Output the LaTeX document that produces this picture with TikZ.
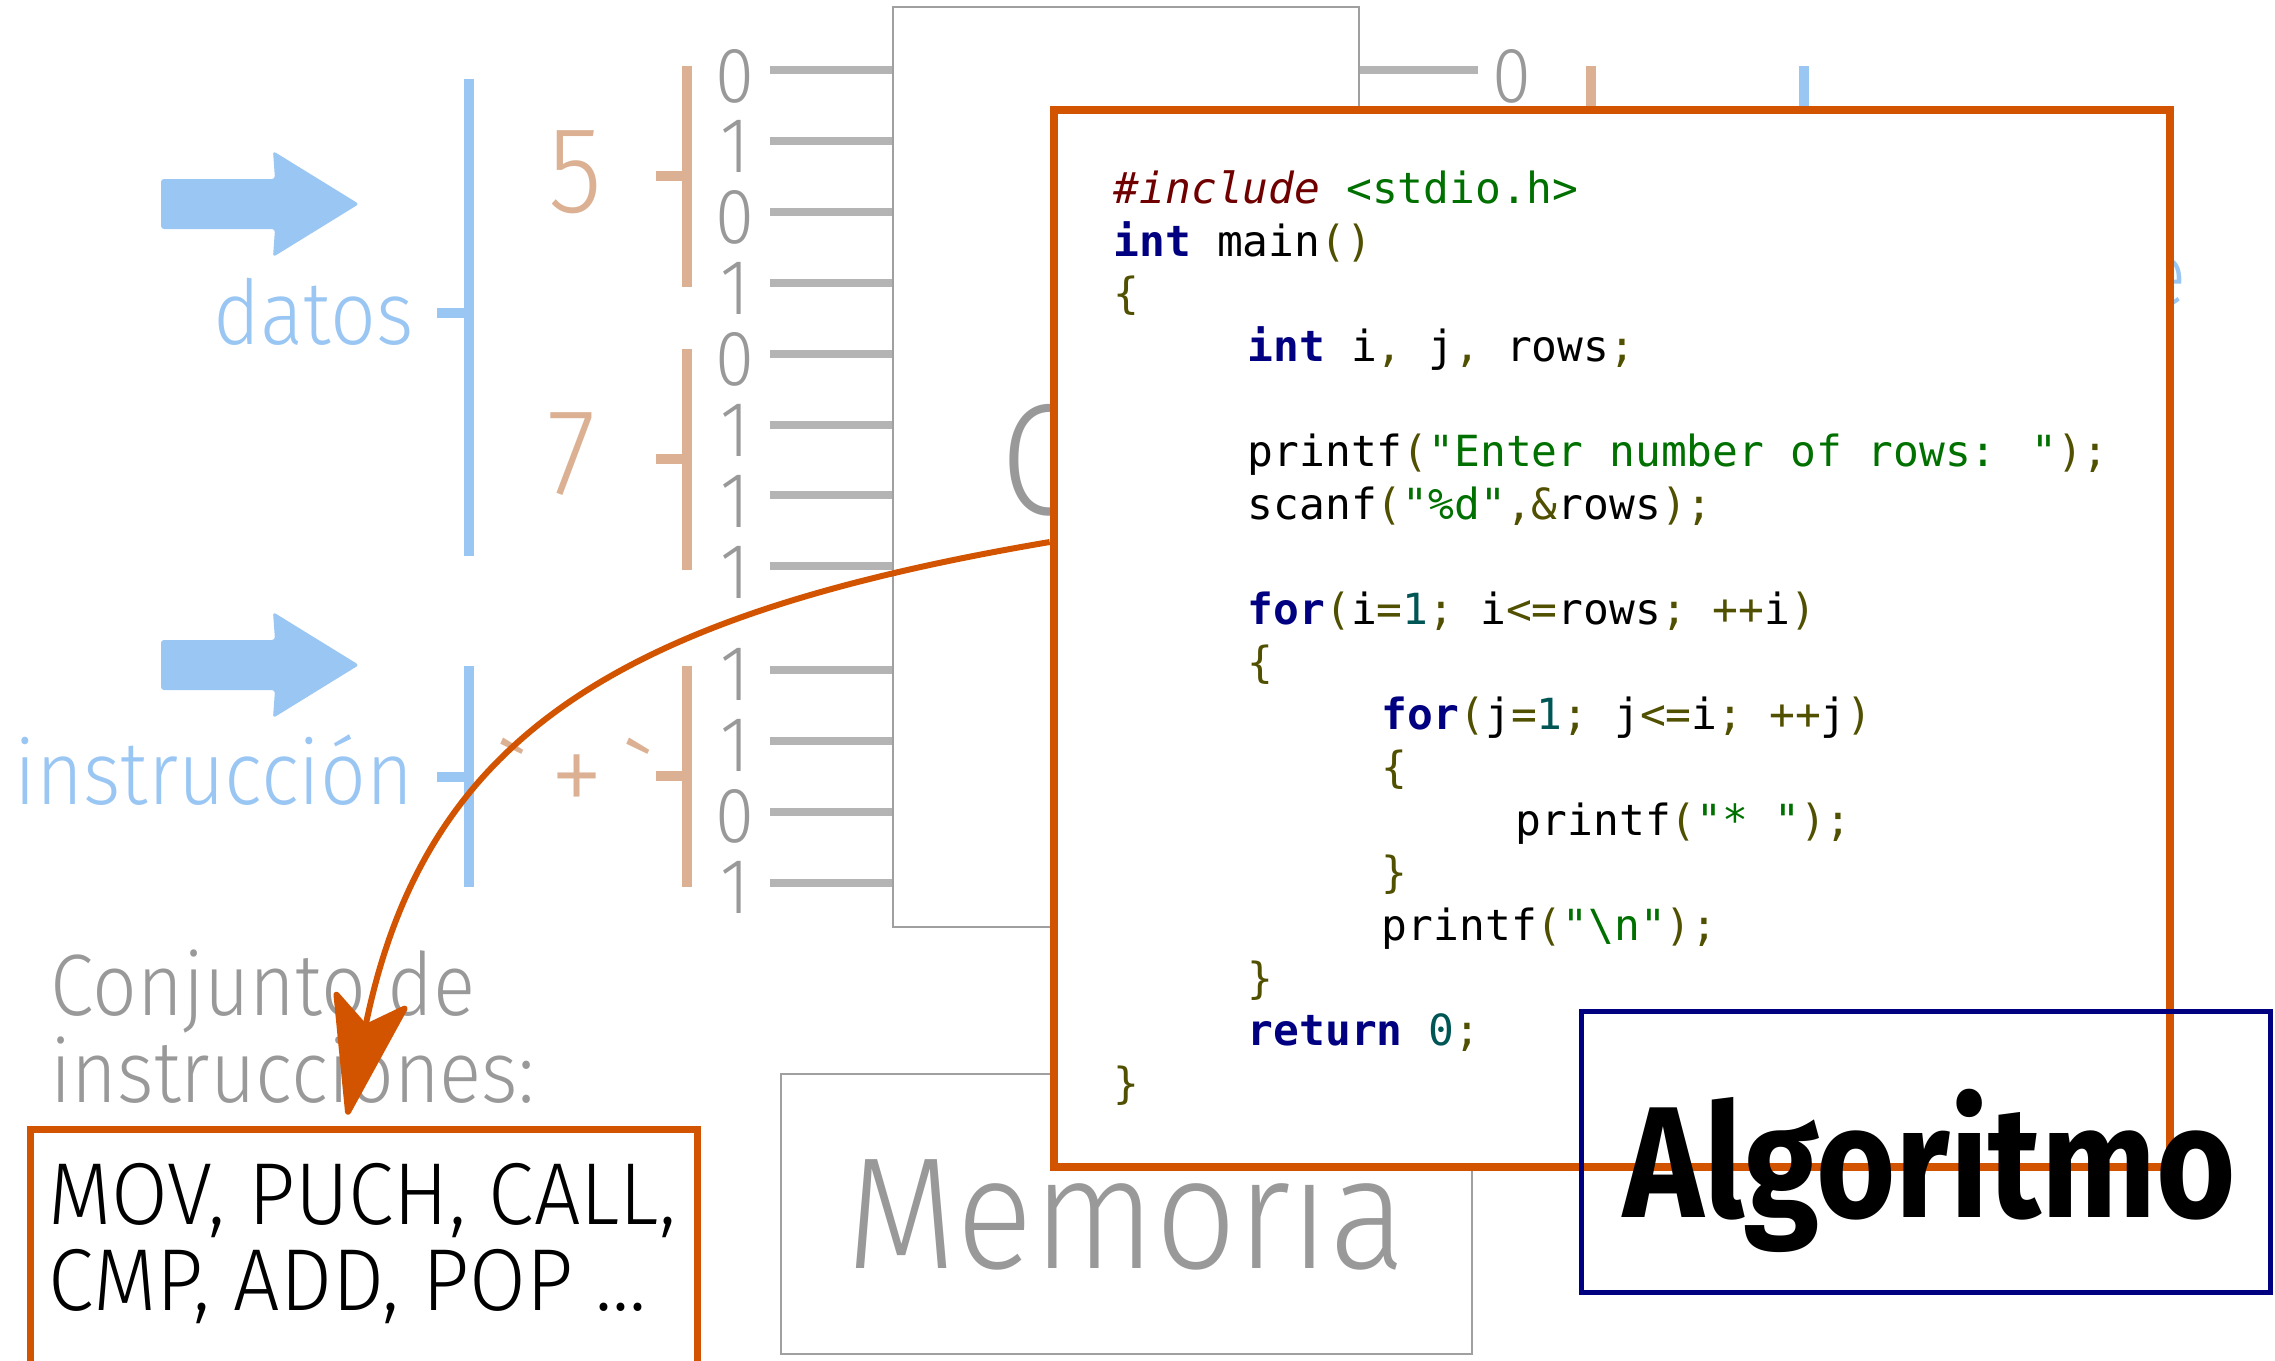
\documentclass[tikz,border=0pt]{standalone}
\usepackage{fontspec}
\usepackage{xcolor}
\usetikzlibrary{arrows.meta}
\newfontfamily\lightfont{Fira Sans Light}[FakeStretch=0.9]
\newfontfamily\wideflight{Fira Sans Light}[FakeStretch=0.935]
\newfontfamily\heavyfont{Fira Sans}[FakeStretch=0.86]
\newfontfamily\codefont{DejaVu Sans Mono}
\definecolor{figblue}{HTML}{9AC6F3}
\definecolor{figtan}{HTML}{DBB093}
\definecolor{figgray}{HTML}{999999}
\definecolor{wiregray}{HTML}{B4B4B4}
\definecolor{boxgray}{HTML}{A0A0A0}
\definecolor{figorange}{HTML}{D35400}
\definecolor{fignavy}{HTML}{000080}
\definecolor{codekw}{HTML}{000080}
\definecolor{codepp}{HTML}{700000}
\definecolor{codestr}{HTML}{007000}
\definecolor{codeop}{HTML}{505000}
\definecolor{codenum}{HTML}{005555}
\newcommand{\ckw}[1]{\textcolor{codekw}{\bfseries #1}}
\newcommand{\cpp}[1]{\textcolor{codepp}{\itshape #1}}
\newcommand{\cstr}[1]{\textcolor{codestr}{#1}}
\newcommand{\cop}[1]{\textcolor{codeop}{#1}}
\newcommand{\cnum}[1]{\textcolor{codenum}{#1}}
\newcommand{\tabin}{\hspace*{1.34cm}}
\newcommand{\lowgrave}{\raisebox{-0.14em}{\textasciigrave}}
\tikzset{
  bitnum/.style={anchor=base,inner sep=0pt,text=figgray,font=\lightfont\fontsize{22.3}{24}\selectfont},
  bitwire/.style={draw=wiregray,line width=0.08cm},
  datbar/.style={draw=figblue,line width=0.105cm},
  numbar/.style={draw=figtan,line width=0.105cm},
  bluelabel/.style={anchor=base east,inner sep=0pt,text=figblue,font=\lightfont\fontsize{25.4}{26}\selectfont},
  unitbox/.style={draw=boxgray,line width=0.02cm,inner sep=0pt},
  codeframe/.style={draw=figorange,fill=white,line width=0.08cm,inner sep=0pt},
  setframe/.style={draw=figorange,line width=0.07cm,inner sep=0pt},
  algoframe/.style={draw=fignavy,line width=0.05cm,inner sep=0pt},
  fetch/.style={draw=figorange,line width=0.06cm,
    -{Stealth[length=1.3cm,width=0.8cm,inset=0.3cm,round]},shorten >=0.12cm}
}
\begin{document}
\begin{tikzpicture}[x=0.01cm,y=-0.01cm]
  \useasboundingbox (0,0) rectangle (2275,1360);
  \clip (0,0) rectangle (2275,1360);
  % inputs
  \foreach \yc in {204,665}
    \fill[figblue,rounded corners=0.03cm] (161,\yc-25) -- (275,\yc-25) -- (273,\yc-53)
      -- (359,\yc) -- (273,\yc+53) -- (275,\yc+25) -- (161,\yc+25) -- cycle;
  \draw[datbar] (469,79) -- (469,556) (437,313) -- (469,313);
  \draw[datbar] (469,666) -- (469,887) (437,777) -- (469,777);
  \node[bluelabel] (datos) at (414,344) {datos};
  \node[bluelabel] (instr) at (414,804) {instrucción};
  % operands
  \draw[numbar] (687,66) -- (687,287) (656,176) -- (687,176);
  \draw[numbar] (687,349) -- (687,570) (656,459) -- (687,459);
  \draw[numbar] (687,666) -- (687,887) (656,776) -- (687,776);
  \node[anchor=base,inner sep=0pt,text=figtan,font=\lightfont\fontsize{35}{36}\selectfont] (five) at (575,212) {5};
  \node[anchor=base,inner sep=0pt,text=figtan,font=\lightfont\fontsize{35}{36}\selectfont] (seven) at (572,494) {7};
  \node[anchor=base,inner sep=0pt,text=figtan,font=\lightfont\fontsize{34}{36}\selectfont] (plus) at (577,815) {\lowgrave\hspace{0.17em}+\hspace{0.17em}\lowgrave};
  % bits on the bus
  \node[unitbox,minimum width=4.66cm,minimum height=9.2cm] (cpu) at (1126,467) {};
  \foreach \b [count=\k from 0] in {0,1,0,1,0,1,1,1} {
    \node[bitnum] (bit\k) at (735,102+70.9*\k) {\b};
    \draw[bitwire] (770,70+70.9*\k) -- (cpu.west |- 0,70+70.9*\k);
  }
  \foreach \b [count=\k from 0] in {1,1,0,1} {
    \node[bitnum] (ibit\k) at (735,700+71*\k) {\b};
    \draw[bitwire] (770,670+71*\k) -- (cpu.west |- 0,670+71*\k);
  }
  \node[anchor=base west,inner sep=0pt,text=figgray,font=\lightfont\fontsize{45}{46}\selectfont] (cpulabel) at (1000,514) {C};
  % result side
  \node[bitnum] (obit) at (1512,102) {0};
  \draw[bitwire] (cpu.east |- 0,70) -- (1478,70);
  \draw[numbar] (1591,66) -- (1591,300);
  \draw[datbar] (1804,66) -- (1804,300);
  \node[bluelabel] (outlabel) at (2187,305) {e};
  % memory
  \node[unitbox,minimum width=6.91cm,minimum height=2.8cm] (mem) at (1126.5,1214) {};
  \node[anchor=base west,inner sep=0pt,text=figgray,font=\lightfont\fontsize{45.2}{46}\selectfont] (memlabel) at (846,1268) {Memoria};
  \node[anchor=north west,inner sep=0pt,align=left,text=figgray,font=\lightfont\fontsize{24.8}{24.75}\selectfont] (setlabel) at (50,949) {Conjunto de\\instrucciones:};
  % program
  \node[codeframe,minimum width=11.16cm,minimum height=10.57cm] (code) at (1612,638.5) {};
  \node[anchor=north west,inner sep=0pt,align=left,font=\codefont\fontsize{12.2}{14.97}\selectfont] (src) at (1113,170) {%
\cpp{\#include} \cstr{<stdio.h>}\\
\ckw{int} main\cop{()}\\
\cop{\{}\\
\tabin\ckw{int} i\cop{,} j\cop{,} rows\cop{;}\\
\mbox{}\\
\tabin printf\cop{(}\cstr{"Enter number of rows: "}\cop{);}\\
\tabin scanf\cop{(}\cstr{"\%d"}\cop{,\&}rows\cop{);}\\
\mbox{}\\
\tabin\ckw{for}\cop{(}i\cop{=}\cnum{1}\cop{;} i\cop{<=}rows\cop{;} \cop{++}i\cop{)}\\
\tabin\cop{\{}\\
\tabin\tabin\ckw{for}\cop{(}j\cop{=}\cnum{1}\cop{;} j\cop{<=}i\cop{;} \cop{++}j\cop{)}\\
\tabin\tabin\cop{\{}\\
\tabin\tabin\tabin printf\cop{(}\cstr{"* "}\cop{);}\\
\tabin\tabin\cop{\}}\\
\tabin\tabin printf\cop{(}\cstr{"\textbackslash n"}\cop{);}\\
\tabin\cop{\}}\\
\tabin\ckw{return} \cnum{0}\cop{;}\\
\cop{\}}};
  % instruction set
  \node[setframe,minimum width=6.66cm,minimum height=2.6cm] (isa) at (364,1260) {};
  \node[anchor=north west,inner sep=0pt,align=left,font=\wideflight\fontsize{25}{24.2}\selectfont] (isatext) at (48,1163) {MOV, PUCH, CALL,\\CMP, ADD, POP ...};
  \draw[fetch] (code.west |- 0,542) .. controls (620,615) and (425,735) .. (isa.north -| 345,0);
  % algorithm tag
  \node[algoframe,minimum width=6.88cm,minimum height=2.805cm] (algo) at (1926,1151.75) {};
  \node[anchor=base west,inner sep=0pt,font=\heavyfont\bfseries\fontsize{45}{46}\selectfont] (algolabel) at (1623,1217) {Algoritmo};
\end{tikzpicture}
\end{document}
